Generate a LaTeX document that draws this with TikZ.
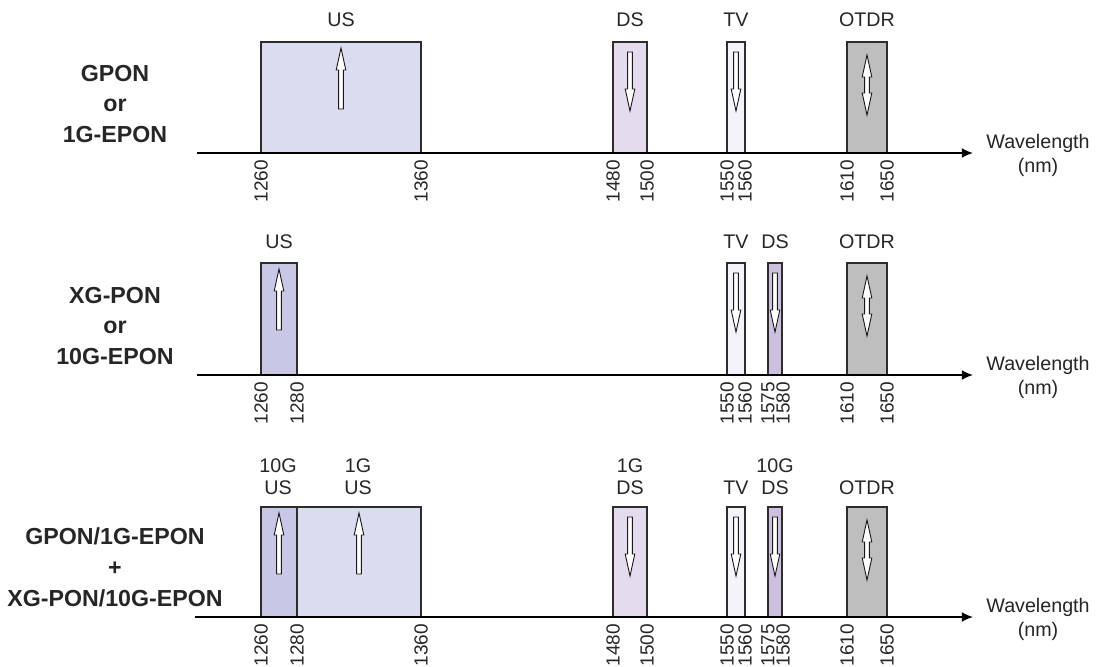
\documentclass[tikz,border=0pt]{standalone}
\usepackage{fontspec}
\setmainfont{Liberation Sans}
\usetikzlibrary{arrows.meta}
\definecolor{usblue}{RGB}{220,220,240}
\definecolor{xgblue}{RGB}{200,200,230}
\definecolor{dslilac}{RGB}{228,220,238}
\definecolor{xgdslilac}{RGB}{204,192,222}
\definecolor{tvwhite}{RGB}{243,243,249}
\definecolor{otdrgray}{RGB}{190,190,190}
\definecolor{edgegray}{RGB}{45,45,45}
\newcommand{\upband}[2]{\draw[hollow] (#1,#2+6) -- (#1+4.8,#2+28) -- (#1+2.4,#2+28) -- (#1+2.4,#2+67) -- (#1-2.4,#2+67) -- (#1-2.4,#2+28) -- (#1-4.8,#2+28) -- cycle;}
\newcommand{\downband}[2]{\draw[hollow] (#1,#2+69) -- (#1+4.8,#2+47) -- (#1+2.4,#2+47) -- (#1+2.4,#2+10) -- (#1-2.4,#2+10) -- (#1-2.4,#2+47) -- (#1-4.8,#2+47) -- cycle;}
\newcommand{\bothband}[2]{\draw[hollow] (#1,#2+13) -- (#1+4.8,#2+35) -- (#1+2.4,#2+35) -- (#1+2.4,#2+51) -- (#1+4.8,#2+51) -- (#1,#2+73) -- (#1-4.8,#2+51) -- (#1-2.4,#2+51) -- (#1-2.4,#2+35) -- (#1-4.8,#2+35) -- cycle;}

\begin{document}
\begin{tikzpicture}[x=0.025cm, y=-0.025cm,
  band/.style={draw=edgegray, line width=0.9pt},
  hollow/.style={draw=black!90, fill=white, line width=0.65pt},
  tick/.style={rotate=90, anchor=east, inner sep=0pt, text=black!85, font=\fontsize{13.5}{13.5}\selectfont},
  toplab/.style={align=center, inner sep=0pt, text=black!85, font=\fontsize{14}{15.6}\selectfont},
  wave/.style={align=center, inner sep=0pt, text=black!85, font=\fontsize{14}{17}\selectfont},
  pon/.style={align=center, inner sep=0pt, text=black!85, font=\fontsize{16.5}{22}\selectfont\bfseries},
  axis/.style={line width=1pt, -{Latex[length=8pt,width=7pt]}}]
  \useasboundingbox (0,0) rectangle (1104,666);
  \fill[white] (0,0) rectangle (1104,666);

  \foreach \a/\b/\c in {261/421/usblue, 613/647/dslilac, 727/745/tvwhite, 847/887/otdrgray}
    \draw[band, fill=\c] (\a,42) rectangle (\b,153);
  \foreach \x/\l in {261/1260, 421/1360, 613/1480, 647/1500, 727/1550, 745/1560, 847/1610, 887/1650}
    \node[tick] (t1-\l) at (\x,160) {\l};
  \foreach \x/\l in {341/US, 630/DS, 736/TV, 867/OTDR}
    \node[toplab] (b1-\l) at (\x,20) {\l};
  \upband{341}{42} \downband{630}{42} \downband{736}{42} \bothband{867}{42}
  \coordinate (a1s) at (197,153);
  \coordinate (a1e) at (973,153);
  \draw[axis] (a1s) -- (a1e);
  \node[wave] (wl1) at (1038,155) {Wavelength\\(nm)};
  \node[pon] (pon1) at (115,104) {GPON\\or\\1G-EPON};

  \foreach \a/\b/\c in {261/297/xgblue, 727/745/tvwhite, 768/782/xgdslilac, 847/887/otdrgray}
    \draw[band, fill=\c] (\a,263) rectangle (\b,375);
  \foreach \x/\l in {261/1260, 297/1280, 727/1550, 745/1560, 768/1575, 783/1580, 847/1610, 887/1650}
    \node[tick] (t2-\l) at (\x,382) {\l};
  \foreach \x/\l in {279/US, 736/TV, 775/DS, 867/OTDR}
    \node[toplab] (b2-\l) at (\x,242) {\l};
  \upband{279}{263} \downband{736}{263} \downband{775}{263} \bothband{867}{263}
  \coordinate (a2s) at (197,375);
  \coordinate (a2e) at (973,375);
  \draw[axis] (a2s) -- (a2e);
  \node[wave] (wl2) at (1038,377) {Wavelength\\(nm)};
  \node[pon] (pon2) at (115,326) {XG-PON\\or\\10G-EPON};

  \foreach \a/\b/\c in {261/297/xgblue, 297/421/usblue, 613/647/dslilac, 727/745/tvwhite, 768/782/xgdslilac, 847/887/otdrgray}
    \draw[band, fill=\c] (\a,507) rectangle (\b,617);
  \foreach \x/\l in {261/1260, 297/1280, 421/1360, 613/1480, 647/1500, 727/1550, 745/1560, 768/1575, 783/1580, 847/1610, 887/1650}
    \node[tick] (t3-\l) at (\x,624) {\l};
  \foreach \x/\n/\l in {278/10g/10G\\US, 358/1g/1G\\US, 630/ds/1G\\DS, 736/tv/TV, 775/xds/10G\\DS, 867/otdr/OTDR}
    \node[toplab, anchor=base] (b3-\n) at (\x,494) {\l};
  \upband{279}{507} \upband{359}{507} \downband{630}{507} \downband{736}{507} \downband{775}{507} \bothband{867}{507}
  \coordinate (a3s) at (195,617);
  \coordinate (a3e) at (973,617);
  \draw[axis] (a3s) -- (a3e);
  \node[wave] (wl3) at (1038,619) {Wavelength\\(nm)};
  \node[pon] (pon3) at (115,567) {GPON/1G-EPON\\+\\XG-PON/10G-EPON};
\end{tikzpicture}
\end{document}
